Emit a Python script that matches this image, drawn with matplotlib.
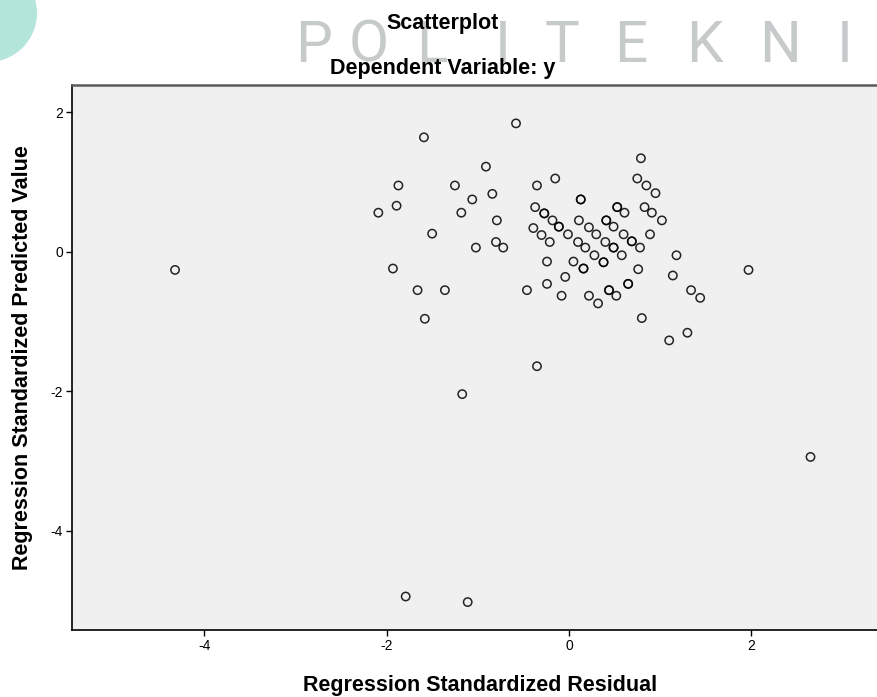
import matplotlib.pyplot as plt
from matplotlib.patches import Circle

# standardized residual (x) and standardized predicted value (y)
residual = [
    -4.32, -1.59, -0.58, -2.09, -1.87, -1.89, -1.93, -1.50, -1.66, -1.58,
    -1.36, -1.25, -1.18, -1.06, -0.91, -0.84, -0.79, -0.80, -0.72, -1.02,
    -1.17, -0.46, -0.35, -1.79, -1.11, 2.65, 1.97,
    -0.15, -0.35, 0.79, 0.75, 0.85, 0.95, 0.13, 0.13, 0.53, 0.53,
    0.61, 0.83, 0.91, 1.02, -0.37, -0.27, -0.27, -0.18, -0.11, -0.11,
    -0.01, 0.10, 0.18, 0.28, 0.38, 0.38, 0.11, 0.22, 0.30, 0.40,
    0.49, 0.49, 0.58, 0.41, 0.41, 0.49, 0.60, 0.69, 0.69, 0.78,
    0.89, -0.39, -0.30, -0.21, -0.24, 0.05, 0.16, 0.16, -0.04, -0.24,
    -0.08, 0.22, 0.32, 0.44, 0.44, 0.52, 0.65, 0.65, 0.76, 1.18,
    1.14, 1.34, 1.44, 0.80, 1.30, 1.10,
]
predicted = [
    -0.26, 1.64, 1.84, 0.56, 0.95, 0.66, -0.24, 0.26, -0.55, -0.96,
    -0.55, 0.95, 0.56, 0.75, 1.22, 0.83, 0.45, 0.14, 0.06, 0.06,
    -2.04, -0.55, -1.64, -4.94, -5.02, -2.94, -0.26,
    1.05, 0.95, 1.34, 1.05, 0.95, 0.84, 0.75, 0.75, 0.64, 0.64,
    0.56, 0.64, 0.56, 0.45, 0.64, 0.55, 0.55, 0.45, 0.36, 0.36,
    0.25, 0.14, 0.06, -0.05, -0.15, -0.15, 0.45, 0.35, 0.25, 0.14,
    0.06, 0.06, -0.05, 0.45, 0.45, 0.36, 0.25, 0.15, 0.15, 0.06,
    0.25, 0.34, 0.24, 0.14, -0.14, -0.14, -0.24, -0.24, -0.36, -0.46,
    -0.63, -0.63, -0.74, -0.55, -0.55, -0.63, -0.46, -0.46, -0.25, -0.05,
    -0.34, -0.55, -0.66, -0.95, -1.16, -1.27,
]
x_ticks = [-4, -2, 0, 2]
y_ticks = [2, 0, -2, -4]
watermark_letters = ["P", "O", "L", "I", "T", "E", "K", "N", "I"]
watermark_x_px = [314, 369, 432, 503, 562, 631, 704, 780, 845]

W, H = 878, 697
plt.rcParams["axes.unicode_minus"] = False

fig = plt.figure(figsize=(W / 100, H / 100), dpi=100)
fig.patch.set_facecolor("white")

# page decoration behind the chart: teal blob and faded letters
fig.patches.append(Circle((-0.12, (H - 13) / 100), 0.49, transform=fig.dpi_scale_trans,
                          facecolor="#b3e5db", edgecolor="none", zorder=0))
for letter, px in zip(watermark_letters, watermark_x_px):
    fig.text(px / W, (H - 62) / H, letter, ha="center", va="baseline",
             fontsize=42, family="Roboto", color="#c6caca", zorder=0)

ax = fig.add_axes([72 / W, (H - 630) / H, (888 - 72) / W, (630 - 85) / H])
ax.set_facecolor("#f0f0f0")
ax.scatter(residual, predicted, s=36, facecolors="none", edgecolors="black",
           linewidths=1.1, alpha=0.85, zorder=3)

ax.set_xlim(-5.45, 3.5)
ax.set_ylim(-5.42, 2.39)
ax.set_xticks(x_ticks)
ax.set_yticks(y_ticks)
ax.tick_params(direction="out", length=4.5, width=1, color="black",
               labelsize=10, pad=2, labelfontfamily="Liberation Sans")

for side in ("left", "bottom"):
    ax.spines[side].set_color("black")
    ax.spines[side].set_linewidth(1.2)
ax.spines["top"].set_color("#5a5a5a")
ax.spines["top"].set_linewidth(1.8)
ax.spines["right"].set_visible(False)

label_font = dict(fontsize=15.5, fontweight="bold", family="Liberation Sans")
ax.set_xlabel("Regression Standardized Residual", **label_font)
ax.set_ylabel("Regression Standardized Predicted Value", **label_font)
ax.xaxis.set_label_coords(0.5, -(675 - 630) / (630 - 85))
ax.yaxis.set_label_coords((33 - 72) / (888 - 72), 0.5)

fig.text(443 / W, (H - 29) / H, "Scatterplot", ha="center", va="baseline",
         zorder=5, **label_font)
fig.text(443 / W, (H - 74) / H, "Dependent Variable: y", ha="center",
         va="baseline", zorder=5, **label_font)

fig.savefig("out.png", dpi=100)
